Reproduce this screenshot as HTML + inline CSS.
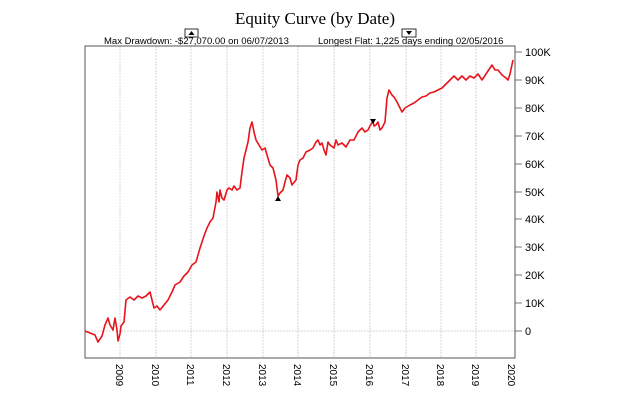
<!DOCTYPE html>
<html><head><meta charset="utf-8"><style>body{margin:0;background:#fff}</style></head><body>
<svg width="630" height="400" xmlns="http://www.w3.org/2000/svg" font-family="Liberation Sans, sans-serif">
<text x="315" y="24" text-anchor="middle" font-family="Liberation Serif, serif" font-size="17">Equity Curve (by Date)</text>
<rect x="185" y="29" width="13" height="8" fill="#fff" stroke="#000" stroke-width="0.8"/>
<path d="M188.5 35 L191.5 31 L194.5 35Z" fill="#000"/>
<rect x="402" y="29" width="14" height="8" fill="#fff" stroke="#000" stroke-width="0.8"/>
<path d="M406 31 L412 31 L409 35Z" fill="#000"/>
<text x="104" y="44" font-size="9.5">Max Drawdown: -$27,070.00 on 06/07/2013</text>
<text x="318" y="44" font-size="9.5">Longest Flat: 1,225 days ending 02/05/2016</text>
<g stroke="#ccc" stroke-width="0.8" stroke-dasharray="2,1">
<line x1="120" y1="46" x2="120" y2="358"/><line x1="156" y1="46" x2="156" y2="358"/><line x1="191" y1="46" x2="191" y2="358"/><line x1="227" y1="46" x2="227" y2="358"/><line x1="263" y1="46" x2="263" y2="358"/><line x1="298" y1="46" x2="298" y2="358"/><line x1="334" y1="46" x2="334" y2="358"/><line x1="370" y1="46" x2="370" y2="358"/><line x1="406" y1="46" x2="406" y2="358"/><line x1="441" y1="46" x2="441" y2="358"/><line x1="476" y1="46" x2="476" y2="358"/>
<line x1="85" y1="331" x2="515" y2="331"/>
</g>
<rect x="85" y="46" width="430" height="312" fill="none" stroke="#555" stroke-width="1"/>
<g stroke="#555" stroke-width="0.8">
<line x1="515" y1="52" x2="522" y2="52"/><line x1="515" y1="80" x2="522" y2="80"/><line x1="515" y1="108" x2="522" y2="108"/><line x1="515" y1="136" x2="522" y2="136"/><line x1="515" y1="164" x2="522" y2="164"/><line x1="515" y1="192" x2="522" y2="192"/><line x1="515" y1="219" x2="522" y2="219"/><line x1="515" y1="247" x2="522" y2="247"/><line x1="515" y1="275" x2="522" y2="275"/><line x1="515" y1="303" x2="522" y2="303"/><line x1="515" y1="331" x2="522" y2="331"/>
</g>
<g font-size="11" text-anchor="start">
<text x="525" y="56">100K</text><text x="525" y="84">90K</text><text x="525" y="112">80K</text><text x="525" y="140">70K</text><text x="525" y="168">60K</text><text x="525" y="196">50K</text><text x="525" y="223">40K</text><text x="525" y="251">30K</text><text x="525" y="279">20K</text><text x="525" y="307">10K</text><text x="525" y="335">0</text>
</g>
<g font-size="10">
<text transform="translate(116,364) rotate(90)">2009</text><text transform="translate(152,364) rotate(90)">2010</text><text transform="translate(187,364) rotate(90)">2011</text><text transform="translate(223,364) rotate(90)">2012</text><text transform="translate(259,364) rotate(90)">2013</text><text transform="translate(294,364) rotate(90)">2014</text><text transform="translate(330,364) rotate(90)">2015</text><text transform="translate(366,364) rotate(90)">2016</text><text transform="translate(402,364) rotate(90)">2017</text><text transform="translate(437,364) rotate(90)">2018</text><text transform="translate(472,364) rotate(90)">2019</text><text transform="translate(508,364) rotate(90)">2020</text>
</g>
<polyline fill="none" stroke="#e8141c" stroke-width="1.6" stroke-linejoin="round" points="85,331 90,333 95,335 98,342 102,336 105,325 108,318 110,325 113,330 115,318 117,330 118,341 120,334 121,326 124,322 126,300 130,297 134,300 138,296 142,298 146,296 150,292 152,300 154,308 157,306 160,310 164,305 168,300 172,292 175,285 180,282 184,276 188,272 192,265 196,262 200,248 204,236 207,228 210,222 213,218 216,202 217,192 219,202 220,190 222,198 224,200 227,190 229,188 232,190 234,186 237,190 240,188 242,172 244,158 246,150 248,142 250,128 252,122 254,132 256,140 259,145 262,150 265,148 267,155 270,165 273,168 276,180 278,196 280,193 283,190 285,182 287,175 290,178 292,185 296,180 298,165 300,160 303,158 306,152 310,150 313,148 316,142 318,140 320,145 322,143 324,150 326,155 328,142 330,145 334,148 336,140 338,145 342,143 346,147 350,140 354,140 358,132 362,128 365,132 368,130 370,126 373,121 374,126 376,125 378,122 380,130 382,128 385,122 387,98 389,90 392,95 394,97 397,102 400,108 402,112 405,108 410,105 414,103 418,100 422,97 426,96 430,93 434,92 438,90 442,88 446,84 450,80 454,76 458,80 462,76 466,80 470,76 474,78 478,74 482,80 486,74 490,68 492,65 495,70 498,70 502,75 506,78 508,80 510,74 513,60"/>
<path d="M275 201 L278 196 L281 201Z" fill="#000"/>
<path d="M370 119 L376 119 L373 124Z" fill="#000"/>
</svg>
</body></html>
